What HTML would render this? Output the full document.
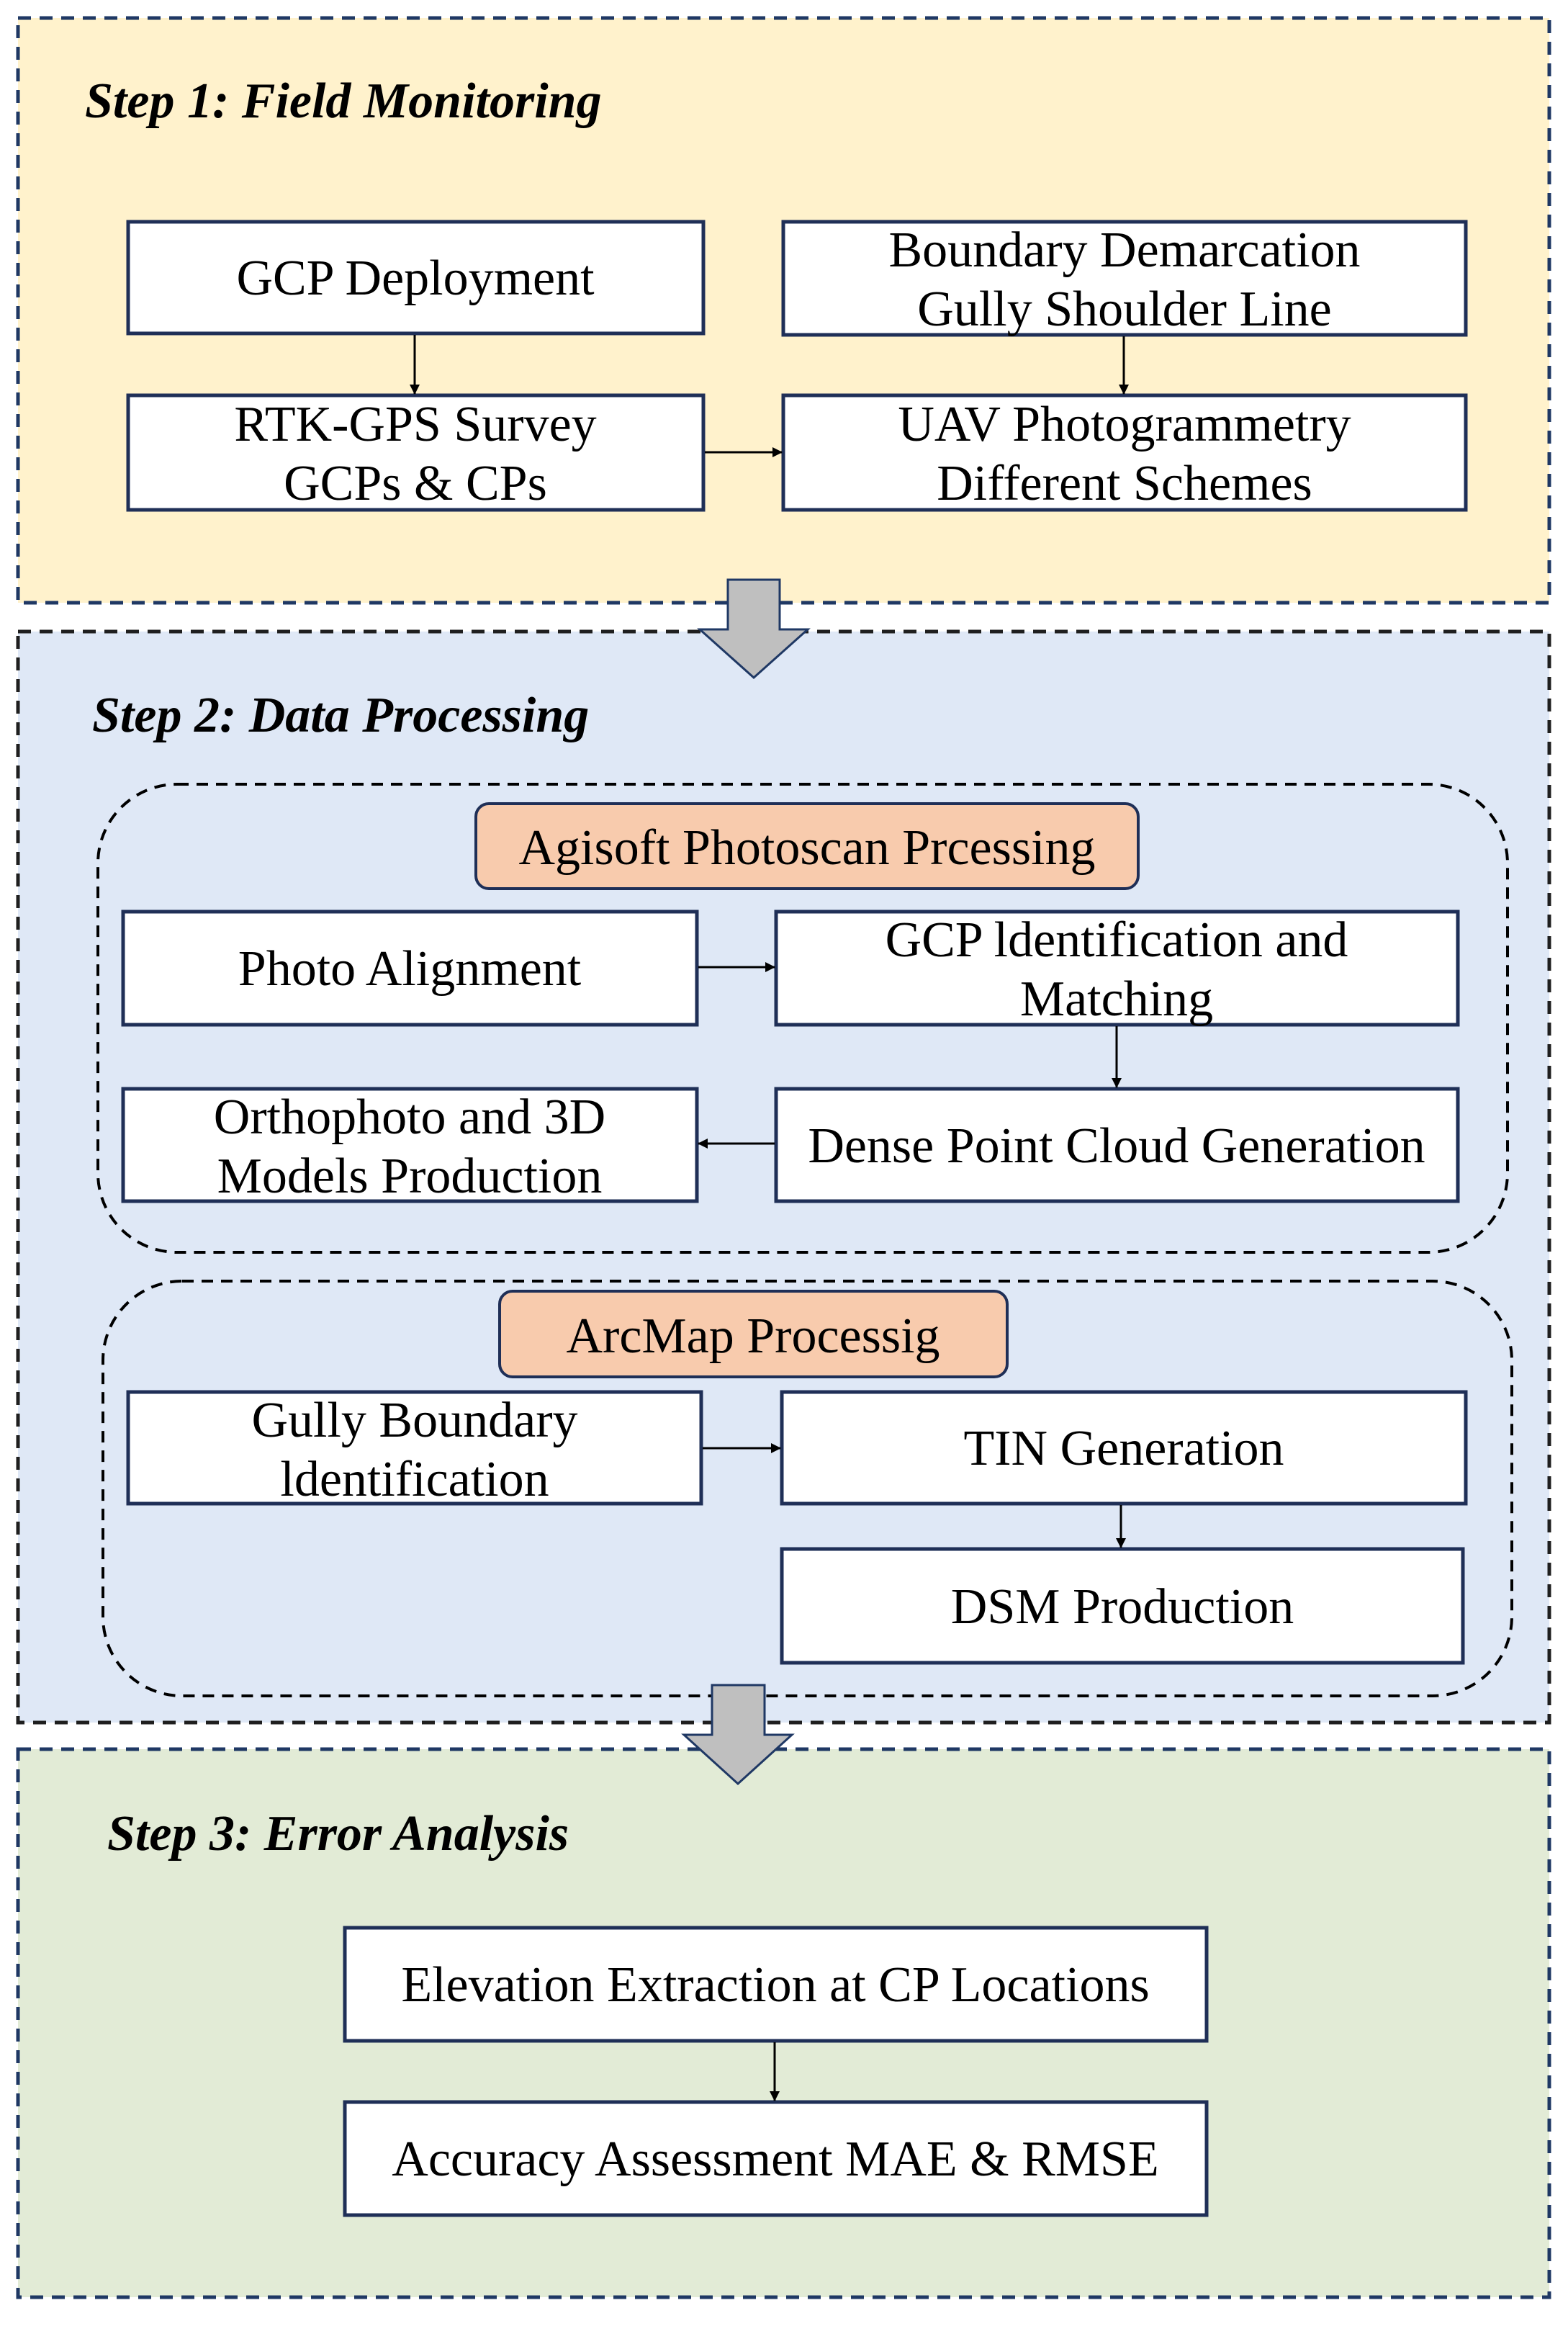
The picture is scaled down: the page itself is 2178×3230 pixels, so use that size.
<!DOCTYPE html>
<html><head><meta charset="utf-8"><style>
html,body{margin:0;padding:0;background:#fff;}
svg{display:block;}
text{font-family:"Liberation Serif","Times New Roman",serif;fill:#000;}
.t{font-size:70px;text-anchor:middle;}
.h{font-size:70px;font-weight:bold;font-style:italic;}
.box{fill:#fff;stroke:#1f2f57;stroke-width:5;}
.ln{stroke:#000;stroke-width:3;fill:none;}
</style></head><body>
<svg width="2178" height="3230" viewBox="0 0 2178 3230" xmlns="http://www.w3.org/2000/svg">
<defs>
<marker id="a" markerWidth="14" markerHeight="14" refX="13" refY="7" orient="auto" markerUnits="userSpaceOnUse" viewBox="0 0 14 14">
<path d="M0,0 L14,7 L0,14 z" fill="#000"/></marker>
</defs>
<rect x="25" y="25" width="2127" height="812" fill="#fff2cc" stroke="#1f3864" stroke-width="5" stroke-dasharray="18,12"/>
<rect x="25" y="877" width="2127" height="1515" fill="#dfe8f6" stroke="#1f1f1f" stroke-width="5" stroke-dasharray="18,12"/>
<rect x="25" y="2429" width="2127" height="761" fill="#e2ebd6" stroke="#1f3864" stroke-width="5" stroke-dasharray="18,12"/>

<text class="h" x="118" y="163">Step 1: Field Monitoring</text>
<text class="h" x="128" y="1016">Step 2: Data Processing</text>
<text class="h" x="149" y="2569">Step 3: Error Analysis</text>

<rect class="box" x="178" y="308" width="799" height="155"/>
<text class="t" x="577" y="409">GCP Deployment</text>
<rect class="box" x="1088" y="308" width="948" height="157"/>
<text class="t" x="1562" y="370">Boundary Demarcation</text>
<text class="t" x="1562" y="452">Gully Shoulder Line</text>
<rect class="box" x="178" y="549" width="799" height="159"/>
<text class="t" x="577" y="612">RTK-GPS Survey</text>
<text class="t" x="577" y="694">GCPs &amp; CPs</text>
<rect class="box" x="1088" y="549" width="948" height="159"/>
<text class="t" x="1562" y="612">UAV Photogrammetry</text>
<text class="t" x="1562" y="694">Different Schemes</text>
<line class="ln" x1="576" y1="465" x2="576" y2="547" marker-end="url(#a)"/>
<line class="ln" x1="1561" y1="467" x2="1561" y2="547" marker-end="url(#a)"/>
<line class="ln" x1="979" y1="628" x2="1086" y2="628" marker-end="url(#a)"/>

<path d="M1011,805 L1083,805 L1083,874 L1122,874 L1047,941 L972,874 L1011,874 z" fill="#bfbfbf" stroke="#1f3864" stroke-width="3"/>

<rect x="136" y="1089" width="1958" height="650" rx="110" fill="none" stroke="#000" stroke-width="4" stroke-dasharray="16,11"/>
<rect x="661" y="1116" width="920" height="118" rx="18" fill="#f8cbad" stroke="#1f2f57" stroke-width="4"/>
<text class="t" x="1121" y="1200">Agisoft Photoscan Prcessing</text>
<rect class="box" x="171" y="1266" width="797" height="157"/>
<text class="t" x="569" y="1368">Photo Alignment</text>
<rect class="box" x="1078" y="1266" width="947" height="157"/>
<text class="t" x="1551" y="1328">GCP ldentification and</text>
<text class="t" x="1551" y="1410">Matching</text>
<rect class="box" x="171" y="1512" width="797" height="156"/>
<text class="t" x="569" y="1574">Orthophoto and 3D</text>
<text class="t" x="569" y="1656">Models Production</text>
<rect class="box" x="1078" y="1512" width="947" height="156"/>
<text class="t" x="1551" y="1614">Dense Point Cloud Generation</text>
<line class="ln" x1="970" y1="1343" x2="1076" y2="1343" marker-end="url(#a)"/>
<line class="ln" x1="1551" y1="1425" x2="1551" y2="1510" marker-end="url(#a)"/>
<line class="ln" x1="1076" y1="1588" x2="970" y2="1588" marker-end="url(#a)"/>

<rect x="143" y="1779" width="1957" height="576" rx="110" fill="none" stroke="#000" stroke-width="4" stroke-dasharray="16,11"/>
<rect x="694" y="1793" width="705" height="119" rx="18" fill="#f8cbad" stroke="#1f2f57" stroke-width="4"/>
<text class="t" x="1046" y="1878">ArcMap Processig</text>
<rect class="box" x="178" y="1933" width="796" height="155"/>
<text class="t" x="576" y="1995">Gully Boundary</text>
<text class="t" x="576" y="2077">ldentification</text>
<rect class="box" x="1086" y="1933" width="950" height="155"/>
<text class="t" x="1561" y="2034">TIN Generation</text>
<rect class="box" x="1086" y="2151" width="946" height="158"/>
<text class="t" x="1559" y="2254">DSM Production</text>
<line class="ln" x1="976" y1="2011" x2="1084" y2="2011" marker-end="url(#a)"/>
<line class="ln" x1="1557" y1="2090" x2="1557" y2="2149" marker-end="url(#a)"/>

<path d="M989,2340 L1062,2340 L1062,2409 L1100,2409 L1025,2477 L950,2409 L989,2409 z" fill="#bfbfbf" stroke="#1f3864" stroke-width="3"/>

<rect class="box" x="479" y="2677" width="1197" height="157"/>
<text class="t" x="1077" y="2779">Elevation Extraction at CP Locations</text>
<rect class="box" x="479" y="2919" width="1197" height="157"/>
<text class="t" x="1077" y="3021">Accuracy Assessment MAE &amp; RMSE</text>
<line class="ln" x1="1076" y1="2836" x2="1076" y2="2917" marker-end="url(#a)"/>
</svg>
</body></html>
